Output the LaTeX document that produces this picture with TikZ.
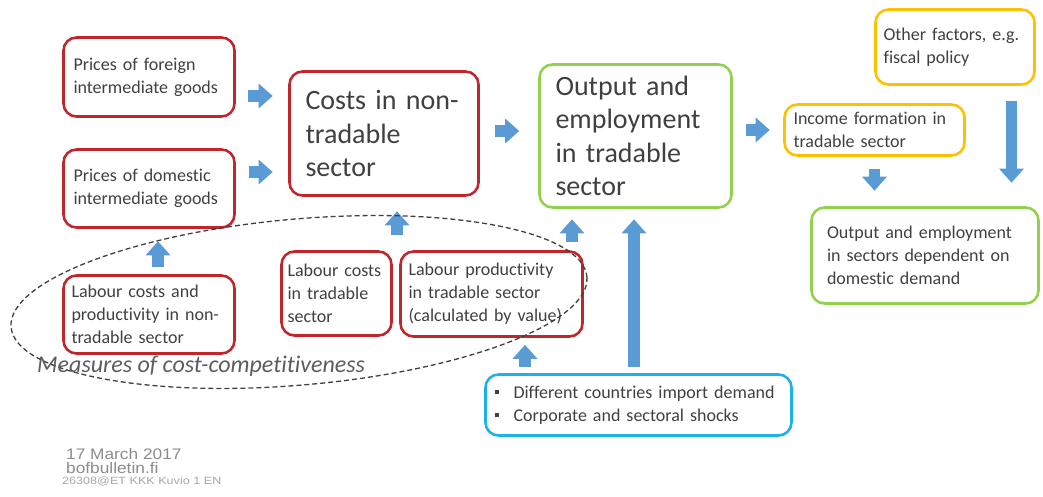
\documentclass[tikz,border=0pt]{standalone}
\usepackage{fontspec}
\setmainfont{Carlito}[Ligatures=NoCommon]
\newfontfamily\footfont{Liberation Sans}
\usetikzlibrary{arrows.meta}

\definecolor{boxred}{HTML}{C0272D}
\definecolor{boxgreen}{HTML}{92D050}
\definecolor{boxyellow}{HTML}{FFC000}
\definecolor{boxblue}{HTML}{1BB1EC}
\definecolor{arrowblue}{HTML}{5B9BD5}
\definecolor{txtgray}{HTML}{404040}
\definecolor{footgray}{HTML}{8C8C8C}
\definecolor{lightgray}{HTML}{A6A6A6}

\newcommand{\sqbullet}{\makebox[19pt][l]{\rule[4pt]{4.5pt}{4.5pt}}}
\newcommand{\widefoot}[1]{\scalebox{1.13}[1]{#1}}

\begin{document}
\begin{tikzpicture}[x=1pt,y=-1pt,
    box/.style={draw, rounded corners=13pt, line width=2.6pt, align=left, text=txtgray,
        font=\fontsize{18}{23}\selectfont, inner ysep=0pt},
    redbox/.style={box, draw=boxred},
    greenbox/.style={box, draw=boxgreen},
    yellowbox/.style={box, draw=boxyellow},
    bluebox/.style={box, draw=boxblue},
    bigtext/.style={font=\fontsize{28}{33.5}\selectfont},
    blockarr/.style={draw=arrowblue, line width=11.5pt, -{Triangle[length=14pt,width=24pt]}},
    foot/.style={anchor=base west, inner sep=0pt}]
    \useasboundingbox (0,0) rectangle (1043,497);

    \node[redbox, text width=151pt, inner xsep=10pt, minimum height=79pt] (foreign) at (149,77) {Prices of foreign\\intermediate goods};
    \node[redbox, text width=151pt, inner xsep=10pt, minimum height=78pt] (domestic) at (149,188.5) {Prices of domestic\\intermediate goods};
    \node[redbox, bigtext, text width=157pt, inner xsep=16pt, minimum height=124pt] (costs) at (384,133.5) {Costs in non-\\tradable\\sector};
    \node[greenbox, bigtext, text width=160pt, inner xsep=16pt, minimum height=143pt] (output) at (635.5,136) {Output and\\employment\\in tradable\\sector};
    \node[yellowbox, text width=162pt, inner xsep=9pt, minimum height=51pt] (income) at (874.5,130) {Income formation in\\tradable sector};
    \node[yellowbox, text width=143pt, inner xsep=8pt, minimum height=75pt] (other) at (955,47) {Other factors, e.g.\\fiscal policy};
    \node[greenbox, text width=196pt, inner xsep=15.5pt, minimum height=96pt] (outdom) at (925,255.5) {Output and employment\\in sectors dependent on\\domestic demand};
    \node[redbox, text width=155pt, inner xsep=8pt, minimum height=78pt] (labnon) at (149,314.5) {Labour costs and\\productivity in non-\\tradable sector};
    \node[redbox, text width=98pt, inner xsep=6pt, minimum height=84pt] (labtrad) at (336.5,293.5) {Labour costs\\in tradable\\sector};
    \node[redbox, text width=166pt, inner xsep=8pt, minimum height=85pt] (labprod) at (491.5,294) {Labour productivity\\in tradable sector\\(calculated by value)};
    \node[bluebox, text width=288pt, inner xsep=9pt, minimum height=61pt] (shocks) at (638.5,405) {\sqbullet Different countries import demand\\\sqbullet Corporate and sectoral shocks};

    \draw[blockarr, shorten <=12.5pt, shorten >=15.5pt] (foreign.east |- 0,96) -- (costs.west |- 0,96);
    \draw[blockarr, shorten <=13.5pt, shorten >=15.5pt] (domestic.east |- 0,172) -- (costs.west |- 0,172);
    \draw[blockarr, shorten <=15.5pt, shorten >=19pt] (costs.east |- 0,131) -- (output.west |- 0,131);
    \draw[blockarr, shorten <=13.5pt, shorten >=13.5pt] (output.east |- income.west) -- (income.west);
    \draw[blockarr, shorten <=15.5pt, shorten >=14.5pt] (labtrad.north -| 397,0) -- (costs.south -| 397,0);
    \draw[blockarr, shorten <=8.5pt, shorten >=10.5pt] (labprod.north -| 572,0) -- (output.south -| 572,0);
    \draw[blockarr, shorten <=7.5pt, shorten >=12.5pt] (labnon.north -| 158,0) -- (domestic.south -| 158,0);
    \draw[blockarr, shorten <=6.5pt, shorten >=7pt] (shocks.north -| 525,0) -- (labprod.south -| 525,0);
    \draw[blockarr, shorten <=6.5pt, shorten >=10.5pt] (shocks.north -| 634,0) -- (output.south -| 634,0);
    \draw[blockarr, shorten <=12.5pt, shorten >=15.5pt] (income.south) -- (outdom.north -| income.south);
    \draw[blockarr, shorten <=15.5pt, shorten >=23.5pt] (other.south -| 1011.5,0) -- (outdom.north -| 1011.5,0);

    \coordinate (ellc) at (299,302);
    \draw[txtgray, line width=1.3pt, dash pattern=on 5pt off 3pt, rotate around={5:(ellc)}] (ellc) ellipse [x radius=289, y radius=83];
    \node[foot, text=txtgray!85, font=\fontsize{24}{24}\selectfont\itshape] (measures) at (37,372) {Measures of cost-competitiveness};

    \node[foot, text=footgray, font=\footfont\fontsize{15.3}{15.3}\selectfont] (date) at (66,459) {\widefoot{17 March 2017}};
    \node[foot, text=footgray, font=\footfont\fontsize{15.3}{15.3}\selectfont] (site) at (66,473) {\widefoot{bofbulletin.fi}};
    \node[foot, text=lightgray, font=\footfont\fontsize{10.5}{10.5}\selectfont] (code) at (62,484) {\scalebox{1.2}[1]{26308@ET KKK Kuvio 1 EN}};
\end{tikzpicture}
\end{document}
